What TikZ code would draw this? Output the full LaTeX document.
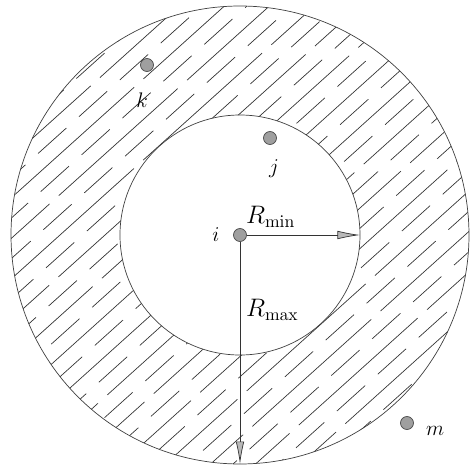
\documentclass[tikz,border=0pt]{standalone}
\usepackage{tikz}
\usetikzlibrary{arrows.meta, positioning, calc}
\tikzset{
    dot/.style={circle, fill=gray!75, draw=gray!60!black, thin, inner sep=0pt, minimum size=2.6mm},
    ring/.style={draw=black!75, thin},
    hatch/.style={black!80, thin},
    radius arrow/.style={-{Latex[length=4.5mm, width=1.7mm, fill=gray!55]}, black!80, thin},
    lbl/.style={font=\large\itshape}
}
\begin{document}
\begin{tikzpicture}
        \useasboundingbox (-4.8,-4.7) rectangle (4.66,4.7);
        % hatched ring between the two radii
        \begin{scope}[even odd rule]
            \clip (0,0) circle (4.58) (0,0) circle (2.4);
            \foreach \k in {-24,...,24} {
                \pgfmathsetmacro{\ph}{mod(abs(\k)*0.53+0.2,1.1)}
                \ifodd\k
                    \draw [hatch, dash pattern=on 0.76cm off 0.34cm, dash phase=\ph cm]
                        ($(\k*0.45,0)+(-6,-5.4)$) -- ++(12,10.8);
                \else
                    \draw [hatch, dash pattern=on 3.2cm off 0.25cm, dash phase=\ph cm]
                        ($(\k*0.45,0)+(-6,-5.4)$) -- ++(12,10.8);
                \fi
            }
        \end{scope}
        \draw [ring] (0,0) circle (4.58);
        \draw [ring] (0,0) circle (2.4);
        % points
        \node [dot] (i) at (0,0) {};
        \node [dot] (j) at (0.6,1.94) {};
        \node [dot] (k) at (-1.86,3.4) {};
        \node [dot] (m) at (3.34,-3.76) {};
        \node [lbl, left=0.15cm of i] {$i$};
        \node [lbl, below=0.18cm of j, xshift=0.08cm] {$j$};
        \node [lbl, below=0.3cm of k, xshift=-0.1cm] {$k$};
        \node [lbl, right=0.12cm of m, yshift=-0.15cm] {$m$};
        % radii
        \coordinate (rmin) at (2.4,0);
        \coordinate (rmax) at (0,-4.58);
        \draw [radius arrow] (i.east) -- (rmin);
        \draw [radius arrow] (i.south) -- (rmax);
        \node [font=\Large, anchor=south west] at (0.0,0.03) {$R_{\min}$};
        \node [font=\Large, anchor=west] at (0.0,-1.5) {$R_{\max}$};
\end{tikzpicture}
\end{document}
